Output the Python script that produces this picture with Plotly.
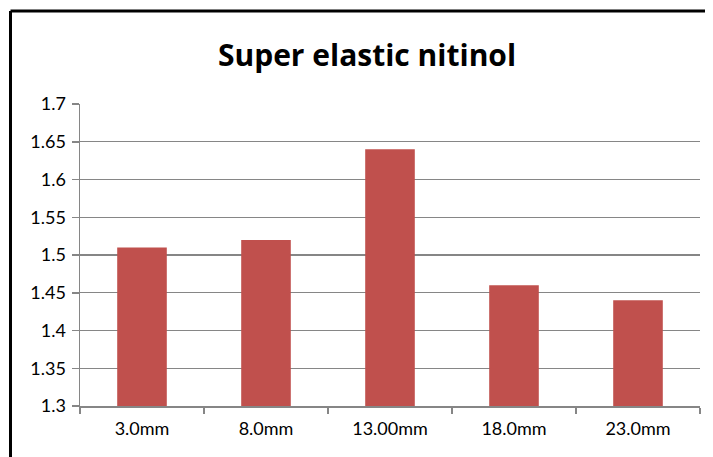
import plotly.graph_objects as go

categories = ["3.0mm", "8.0mm", "13.00mm", "18.0mm", "23.0mm"]
values = [1.51, 1.52, 1.64, 1.46, 1.44]
y_ticks = [1.3, 1.35, 1.4, 1.45, 1.5, 1.55, 1.6, 1.65, 1.7]
y_tick_labels = ["1.3", "1.35", "1.4", "1.45", "1.5", "1.55", "1.6", "1.65", "1.7"]

# the page body has an 8px margin, so the figure is drawn 8px in from the window edge
W, H = 705, 449
L, R, T, B = 72, 13, 96, 51
pw, ph = W - L - R, H - T - B

fig = go.Figure(go.Bar(x=categories, y=values, marker=dict(color="#C0504D", line=dict(width=0)),
                       hoverinfo="skip"))

grey = "#868686"
font_family = "Lato, 'Open Sans', sans-serif"

fig.update_layout(
    width=W, height=H,
    margin=dict(l=L, r=R, t=T, b=B),
    paper_bgcolor="white", plot_bgcolor="white",
    bargap=0.6,
    showlegend=False,
    hovermode=False,
    title=dict(text="<b>Super elastic nitinol</b>", x=359 / W, xanchor="center",
               y=1 - 47 / H, yanchor="middle", xref="container", yref="container",
               font=dict(family="'Open Sans', Lato, sans-serif", size=30, color="black")),
    xaxis=dict(showline=True, linecolor=grey, linewidth=1.5, ticks="outside", tickson="boundaries",
               ticklen=6, tickcolor=grey, tickwidth=1.5, showgrid=False, showspikes=False,
               tickfont=dict(family=font_family, size=18, color="black"), ticklabelstandoff=6),
    yaxis=dict(range=[1.3, 1.7], tickvals=y_ticks, ticktext=y_tick_labels, showline=True,
               linecolor=grey, linewidth=1.5, ticks="outside", ticklen=7, tickcolor=grey, tickwidth=1.5,
               showgrid=True, gridcolor=grey, gridwidth=1.4, zeroline=False, showspikes=False,
               tickfont=dict(family=font_family, size=18, color="black"), ticklabelstandoff=2),
    shapes=[
        dict(type="line", xref="paper", yref="paper", x0=(2.5 - L) / pw, x1=(W - L) / pw,
             y0=(H - B - 3) / ph, y1=(H - B - 3) / ph, line=dict(color="black", width=3)),
        dict(type="line", xref="paper", yref="paper", x0=(2.5 - L) / pw, x1=(2.5 - L) / pw,
             y0=(H - B - 3) / ph, y1=-B / ph, line=dict(color="black", width=3)),
    ],
)

fig.write_html("out.html", config=dict(displayModeBar=False, staticPlot=True))
